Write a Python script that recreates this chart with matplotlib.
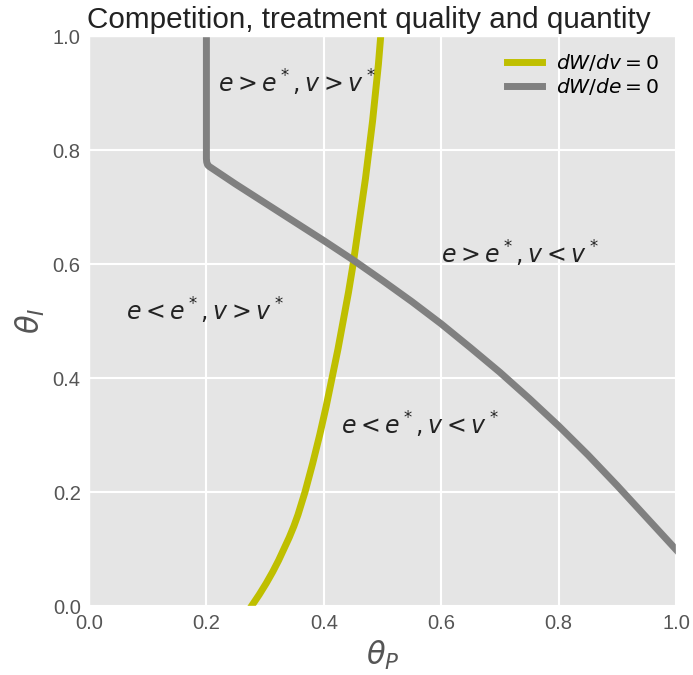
import matplotlib
matplotlib.use("Agg")
import matplotlib.pyplot as plt

plt.style.use("ggplot")
plt.rcParams['font.family'] = ['Liberation Sans', 'DejaVu Sans']
plt.rcParams['mathtext.fontset'] = 'dejavusans'

# dW/dv = 0 curve (theta_I -> theta_P)
dv_theta_I = [0.00, 0.02, 0.04, 0.06, 0.08, 0.10, 0.12, 0.14, 0.16, 0.18, 0.20,
              0.25, 0.30, 0.35, 0.40, 0.45, 0.50, 0.55, 0.60, 0.65, 0.70, 0.75,
              0.80, 0.85, 0.90, 0.95, 1.00]
dv_theta_P = [0.277, 0.290, 0.302, 0.313, 0.323, 0.332, 0.341, 0.349, 0.356, 0.362, 0.368,
              0.381, 0.393, 0.404, 0.414, 0.424, 0.433, 0.442, 0.450, 0.457, 0.464, 0.471,
              0.477, 0.483, 0.488, 0.493, 0.497]

# dW/de = 0 curve
de_theta_P = [0.2, 0.2, 0.2005, 0.202, 0.205, 0.25, 0.30, 0.35, 0.40, 0.45, 0.50,
              0.55, 0.60, 0.65, 0.70, 0.75, 0.80, 0.85, 0.90, 0.95, 1.00]
de_theta_I = [1.0, 0.785, 0.779, 0.774, 0.771, 0.740, 0.707, 0.674, 0.641, 0.607, 0.571,
              0.534, 0.495, 0.453, 0.410, 0.364, 0.316, 0.265, 0.211, 0.155, 0.099]

region_labels = [r'$e>e^*,v>v^*$', r'$e>e^*,v<v^*$', r'$e<e^*,v>v^*$', r'$e<e^*,v<v^*$']
region_x = [0.22, 0.6, 0.063, 0.43]
region_y = [0.9, 0.6, 0.5, 0.3]

fig = plt.figure(figsize=(6.93, 6.75), dpi=100)
ax = fig.add_axes([89/693, 69/675, 587/693, 570/675])

ax.plot(dv_theta_P, dv_theta_I, color='y', lw=5, label=r'$dW/dv=0$')
ax.plot(de_theta_P, de_theta_I, color='0.5', lw=5, label=r'$dW/de=0$')

for t, x, y in zip(region_labels, region_x, region_y):
    ax.text(x, y, t, fontsize=17, color='#222222')

ax.set_xlim(0, 1)
ax.set_ylim(0, 1)
ax.set_xticks([0, 0.2, 0.4, 0.6, 0.8, 1.0])
ax.set_yticks([0, 0.2, 0.4, 0.6, 0.8, 1.0])
ax.tick_params(labelsize=14.5, colors='#555555', length=0, pad=6)
for lab in ax.get_xticklabels() + ax.get_yticklabels():
    lab.set_color('#555555')
ax.set_xlabel(r'$\theta_P$', fontsize=22, color='#555555')
ax.set_ylabel(r'$\theta_I$', fontsize=22, color='#555555')
ax.set_title('Competition, treatment quality and quantity', fontsize=21.3,
             color='#222222', pad=6, x=0.476)
ax.grid(True, color='white', lw=1.5)

leg = ax.legend(loc='upper right', frameon=False, fontsize=14.6, handlelength=1.75,
                labelspacing=0.15, handletextpad=0.7, borderaxespad=0.4)

fig.savefig('out.png', dpi=100)
